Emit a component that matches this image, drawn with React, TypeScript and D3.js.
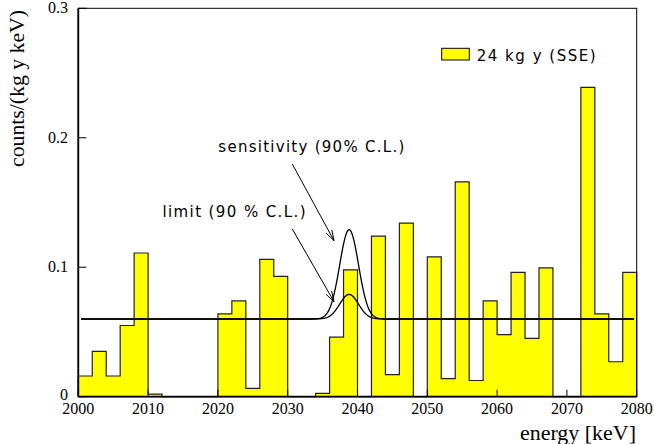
import React from "react";
import * as d3 from "d3";

// Histogram: 2 keV bins from 2000 to 2080 keV
const binStarts = d3.range(2000, 2080, 2);
const counts = [
  0.016, 0.035, 0.016, 0.055, 0.111, 0.002, 0, 0, 0, 0,
  0.064, 0.074, 0.0065, 0.106, 0.093, 0, 0, 0.0025, 0.046, 0.098,
  0, 0.124, 0.017, 0.134, 0, 0.108, 0.014, 0.166, 0.0125, 0.074,
  0.048, 0.096, 0.045, 0.0995, 0, 0, 0.239, 0.064, 0.027, 0.096,
];
const binWidth = 2;

const xTicks = [2000, 2010, 2020, 2030, 2040, 2050, 2060, 2070, 2080];
const yTicks = [0, 0.1, 0.2, 0.3];
const yTickLabels = ["0", "0.1", "0.2", "0.3"];

// Model curves: flat background + Gaussian peak at Q-value
const background = 0.06;
const peakCenter = 2038.8;
const peakSigma = 1.35;
const sensitivityAmp = 0.069;
const limitAmp = 0.019;
const curveRange = [2000.4, 2079.6];

const legendLabel = "24 kg y (SSE)";
const sensLabel = "sensitivity (90% C.L.)";
const limitLabel = "limit (90 % C.L.)";

export default function App() {
  const x = d3.scaleLinear().domain([2000, 2080]).range([78.3, 636.7]);
  const y = d3.scaleLinear().domain([0, 0.3]).range([396.7, 8.3]);

  const stepPts: [number, number][] = [[2000, 0]];
  binStarts.forEach((b, i) => {
    stepPts.push([b, counts[i]]);
    stepPts.push([b + binWidth, counts[i]]);
  });
  stepPts.push([2080, 0]);
  const line = d3.line<[number, number]>().x((d) => x(d[0])).y((d) => y(d[1]));

  const samples = d3.range(curveRange[0], curveRange[1] + 0.001, 0.1);
  const model = (amp: number) =>
    samples.map((e) => [e, background + amp * Math.exp(-0.5 * ((e - peakCenter) / peakSigma) ** 2)] as [number, number]);

  const sansFont = "'DejaVu Sans', sans-serif";
  const serifFont = "'Liberation Serif', 'DejaVu Serif', serif";

  const arrow = (x1: number, y1: number, x2: number, y2: number) => {
    const ang = Math.atan2(y2 - y1, x2 - x1);
    const L = 11, a = 0.3;
    const p1 = [x2 - L * Math.cos(ang - a), y2 - L * Math.sin(ang - a)];
    const p2 = [x2 - L * Math.cos(ang + a), y2 - L * Math.sin(ang + a)];
    return (
      <g stroke="#000" strokeWidth={1} fill="none">
        <line x1={x1} y1={y1} x2={x2} y2={y2} />
        <polyline points={`${p1[0]},${p1[1]} ${x2},${y2} ${p2[0]},${p2[1]}`} />
      </g>
    );
  };

  return (
    <svg width={654} height={444} style={{ position: "absolute", left: 0, top: 0, background: "#fff" }}>
      <path d={line(stepPts) || ""} fill="#ffff00" stroke="none" />
      <path d={line(stepPts) || ""} fill="none" stroke="#222" strokeWidth={1.2} />

      <path d={line(model(sensitivityAmp)) || ""} fill="none" stroke="#000" strokeWidth={1.3} />
      <path d={line(model(limitAmp)) || ""} fill="none" stroke="#000" strokeWidth={1.3} />

      {/* frame */}
      <rect x={x(2000)} y={y(0.3)} width={x(2080) - x(2000)} height={y(0) - y(0.3)} fill="none" stroke="#000" strokeWidth={1} />
      <line x1={x(2000)} y1={y(0.3)} x2={x(2000)} y2={y(0)} stroke="#000" strokeWidth={1.8} />
      <line x1={x(2000)} y1={y(0)} x2={x(2080)} y2={y(0)} stroke="#000" strokeWidth={1.8} />

      {xTicks.map((t) => (
        <g key={t}>
          <line x1={x(t)} x2={x(t)} y1={y(0)} y2={y(0) - 7} stroke="#000" strokeWidth={1} />
          <text x={x(t)} y={414} textAnchor="middle" fontFamily={serifFont} fontSize={16}>{t}</text>
        </g>
      ))}
      {yTicks.map((t, i) => (
        <g key={t}>
          <line x1={x(2000)} x2={x(2000) + 8} y1={y(t)} y2={y(t)} stroke="#000" strokeWidth={1} />
          <text x={68} y={y(t) + (t === 0 ? 3 : 5)} textAnchor="end" fontFamily={serifFont} fontSize={16}>{yTickLabels[i]}</text>
        </g>
      ))}

      <text x={520} y={440} textLength={116} lengthAdjust="spacingAndGlyphs" fontFamily={serifFont} fontSize={20}>energy [keV]</text>
      <text transform="translate(24,167) rotate(-90)" textLength={157} lengthAdjust="spacingAndGlyphs" fontFamily={serifFont} fontSize={20}>counts/(kg y keV)</text>

      {/* legend */}
      <rect x={441.7} y={48.3} width={27.6} height={11.7} fill="#ffff00" stroke="#000" strokeWidth={1} />
      <text x={476.7} y={60.5} textLength={119} lengthAdjust="spacing" fontFamily={sansFont} fontSize={15}>{legendLabel}</text>

      {/* annotations */}
      <text x={218.3} y={152} textLength={186} lengthAdjust="spacing" fontFamily={sansFont} fontSize={15}>{sensLabel}</text>
      <text x={162.5} y={217} textLength={143} lengthAdjust="spacing" fontFamily={sansFont} fontSize={15}>{limitLabel}</text>
      {arrow(292.3, 164, 334, 240.7)}
      {arrow(292.3, 229, 334, 301.7)}
    </svg>
  );
}
